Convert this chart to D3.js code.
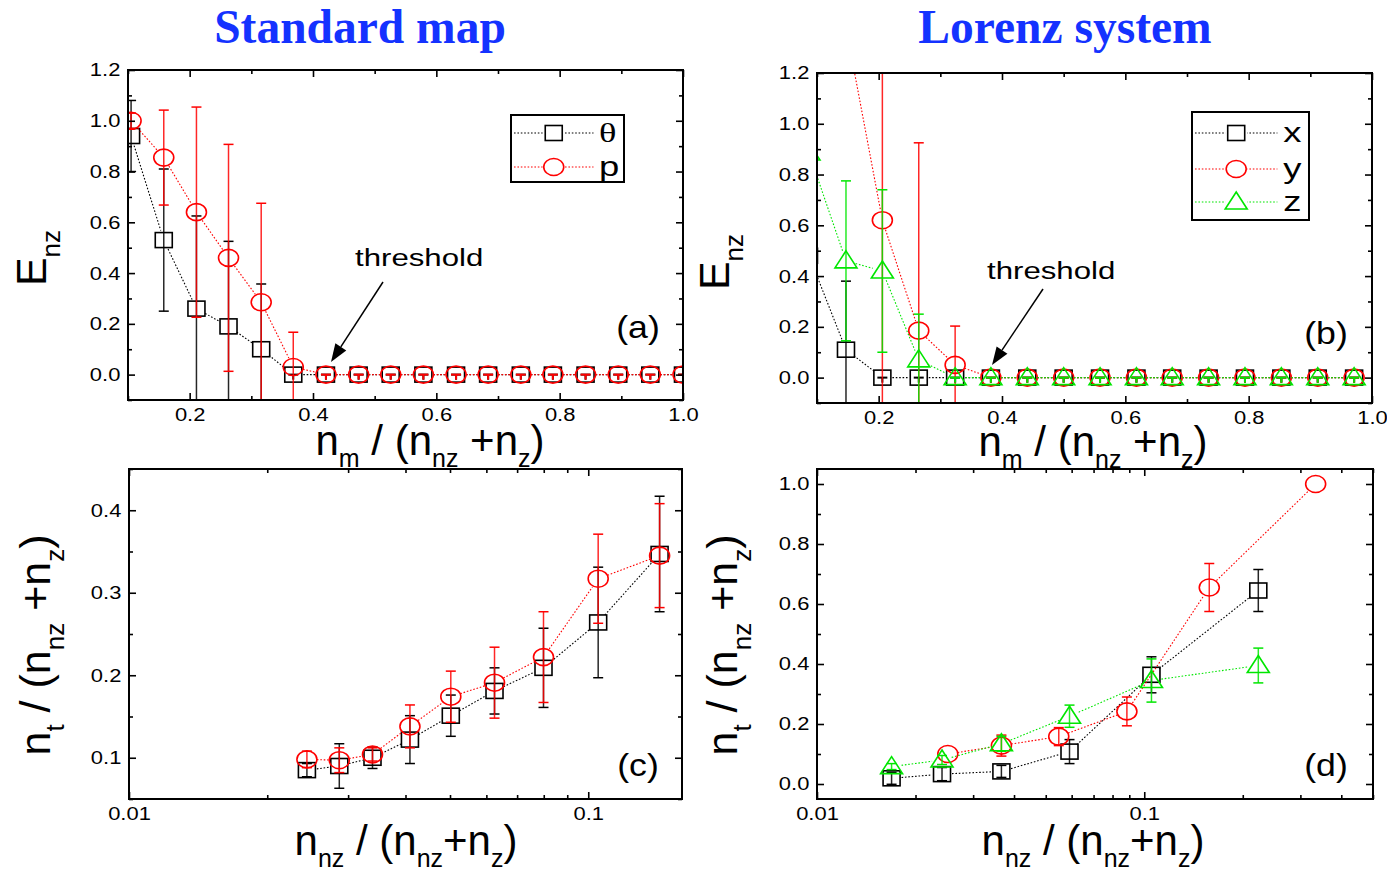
<!DOCTYPE html>
<html>
<head>
<meta charset="utf-8">
<script src="https://cdn.jsdelivr.net/npm/d3@7"></script>
<style>
  body { margin: 0; background: #fff; }
</style>
</head>
<body>
<svg id="fig" width="1387" height="873" font-family='"Liberation Sans", Arial, sans-serif'></svg>
<script>
// ---- data ----
// (a) standard map, E_nz vs n_m/(n_nz+n_z)
const aX = [0.105, 0.158, 0.211, 0.263, 0.316, 0.368, 0.421, 0.474, 0.526, 0.579, 0.632, 0.684, 0.737, 0.789, 0.842, 0.895, 0.947, 1.0];
const aTheta    = [0.94, 0.53, 0.26, 0.19, 0.10, 0.0, 0, 0, 0, 0, 0, 0, 0, 0, 0, 0, 0, 0];
const aThetaErr = [0.14, 0.28, 0.365, 0.335, 0.257, 0.02, 0.02, 0.02, 0.02, 0.02, 0.02, 0.02, 0.02, 0.02, 0.02, 0.02, 0.02, 0.02];
const aP        = [1.0, 0.855, 0.64, 0.46, 0.285, 0.03, 0, 0, 0, 0, 0, 0, 0, 0, 0, 0, 0, 0];
const aPErr     = [0.03, 0.187, 0.414, 0.447, 0.39, 0.137, 0.02, 0.02, 0.02, 0.02, 0.02, 0.02, 0.02, 0.02, 0.02, 0.02, 0.02, 0.02];

// (b) Lorenz system
const bX = [0.087, 0.147, 0.206, 0.265, 0.324, 0.382, 0.441, 0.5, 0.559, 0.618, 0.676, 0.735, 0.794, 0.853, 0.912, 0.971];
const bXs    = [0.48, 0.11, 0, 0, 0, 0, 0, 0, 0, 0, 0, 0, 0, 0, 0, 0];
const bXsErr = [0, 0.27, 0.02, 0.02, 0.02, 0.02, 0.02, 0.02, 0.02, 0.02, 0.02, 0.02, 0.02, 0.02, 0.02, 0.02];
const bYs    = [2.4, 1.38, 0.62, 0.185, 0.05, 0, 0, 0, 0, 0, 0, 0, 0, 0, 0, 0];
const bYsErr = [0, 0.1, 1.0, 0.74, 0.153, 0.02, 0.02, 0.02, 0.02, 0.02, 0.02, 0.02, 0.02, 0.02, 0.02, 0.02];
const bZs    = [0.885, 0.46, 0.42, 0.07, 0, 0, 0, 0, 0, 0, 0, 0, 0, 0, 0, 0];
const bZsErr = [0, 0.315, 0.32, 0.18, 0.02, 0.02, 0.02, 0.02, 0.02, 0.02, 0.02, 0.02, 0.02, 0.02, 0.02, 0.02];

// (c) standard map, n_t/(n_nz+n_z) vs n_nz/(n_nz+n_z)
const cX = [0.0244, 0.0287, 0.0339, 0.0409, 0.0502, 0.0625, 0.0799, 0.1051, 0.143];
const cTheta    = [0.085, 0.090, 0.100, 0.122, 0.151, 0.181, 0.209, 0.264, 0.347];
const cThetaErr = [0.008, 0.027, 0.013, 0.029, 0.025, 0.028, 0.048, 0.067, 0.07];
const cP        = [0.098, 0.097, 0.104, 0.138, 0.174, 0.191, 0.222, 0.317, 0.345];
const cPErr     = [0.01, 0.015, 0.008, 0.026, 0.031, 0.043, 0.055, 0.054, 0.063];

// (d) Lorenz system
const dXx = [0.0169, 0.0241, 0.0366, 0.0591, 0.1052, 0.2231];
const dXs    = [0.019, 0.033, 0.042, 0.108, 0.364, 0.645];
const dXsErr = [0.02, 0.022, 0.02, 0.04, 0.06, 0.07];
const dYx = [0.0251, 0.0366, 0.0548, 0.0885, 0.158, 0.334];
const dYs    = [0.10, 0.128, 0.158, 0.242, 0.655, 1.0];
const dYsErr = [0, 0.035, 0.03, 0.048, 0.08, 0];
const dZx = [0.0169, 0.0241, 0.0366, 0.0591, 0.1052, 0.2231];
const dZs    = [0.058, 0.08, 0.134, 0.226, 0.345, 0.395];
const dZsErr = [0.01, 0.015, 0.025, 0.037, 0.072, 0.058];

// tick values
const linTicksA = [0.2, 0.4, 0.6, 0.8, 1.0];
const linMinorA = [0.1, 0.3, 0.5, 0.7, 0.9];
const yTicksE = [0.0, 0.2, 0.4, 0.6, 0.8, 1.0, 1.2];
const yMinorE = [-0.1, 0.1, 0.3, 0.5, 0.7, 0.9, 1.1];
const logTicks = [0.01, 0.1];
const logMinorC = [0.02, 0.03, 0.04, 0.05, 0.06, 0.07, 0.08, 0.09];
const logMinorD = [0.02, 0.03, 0.04, 0.05, 0.06, 0.07, 0.08, 0.09, 0.2, 0.3, 0.4, 0.5];
const yTicksC = [0.1, 0.2, 0.3, 0.4];
const yMinorC = [0.05, 0.15, 0.25, 0.35, 0.45];
const yTicksD = [0.0, 0.2, 0.4, 0.6, 0.8, 1.0];
const yMinorD = [0.1, 0.3, 0.5, 0.7, 0.9];

const BLACK = '#000', RED = '#ff0000', GREEN = '#00e600';
// the original figure's small texts are a little stretched sideways
const TICK_SX = 1.18, TAG_SX = 1.15, NOTE_SX = 1.3;
const SANS = '"Liberation Sans", Arial, sans-serif';
const SERIF = '"Liberation Serif", "Times New Roman", serif';

const svg = d3.select('#fig');

function marker(g, shape, cx, cy, color) {
    if (shape === 'square') {
        g.append('rect').attr('x', cx - 8.5).attr('y', cy - 7.5).attr('width', 17).attr('height', 15)
            .attr('fill', 'none').attr('stroke', color).attr('stroke-width', 1.6);
    } else if (shape === 'circle') {
        g.append('ellipse').attr('cx', cx).attr('cy', cy).attr('rx', 10).attr('ry', 8.5)
            .attr('fill', 'none').attr('stroke', color).attr('stroke-width', 1.6);
    } else {
        g.append('path')
            .attr('d', 'M' + cx + ',' + (cy - 10) + ' L' + (cx + 11) + ',' + (cy + 7) + ' L' + (cx - 11) + ',' + (cy + 7) + ' Z')
            .attr('fill', 'none').attr('stroke', color).attr('stroke-width', 1.6);
    }
}

function drawSeries(g, x, y, xs, vals, errs, color, shape) {
    const pts = xs.map((d, i) => [x(d), y(vals[i])]);
    // dotted connecting line, with a gap round each marker
    for (let i = 0; i < pts.length - 1; i++) {
        const [x1, y1] = pts[i], [x2, y2] = pts[i + 1];
        const len = Math.hypot(x2 - x1, y2 - y1);
        const gap = 10;
        if (len <= 2 * gap) continue;
        const ux = (x2 - x1) / len, uy = (y2 - y1) / len;
        g.append('line')
            .attr('x1', x1 + ux * gap).attr('y1', y1 + uy * gap)
            .attr('x2', x2 - ux * gap).attr('y2', y2 - uy * gap)
            .attr('stroke', color).attr('stroke-width', 1.1)
            .attr('stroke-dasharray', '1.6,1.8');
    }
    // error bars
    pts.forEach((p, i) => {
        const e = errs[i];
        if (!e) return;
        const cx = p[0];
        if (vals[i] === 0) {
            // tiny bars at zero show as a "T"
            g.append('line').attr('x1', cx - 5).attr('x2', cx + 5).attr('y1', p[1]).attr('y2', p[1])
                .attr('stroke', color).attr('stroke-width', 2);
            g.append('line').attr('x1', cx).attr('x2', cx).attr('y1', p[1]).attr('y2', y(-e))
                .attr('stroke', color).attr('stroke-width', 2);
            return;
        }
        const yt = y(vals[i] + e), yb = y(vals[i] - e);
        g.append('line').attr('x1', cx).attr('x2', cx).attr('y1', yt).attr('y2', yb)
            .attr('stroke', color).attr('stroke-width', 1.5).attr('stroke-opacity', 0.85);
        [yt, yb].forEach(yy => {
            g.append('line').attr('x1', cx - 5).attr('x2', cx + 5).attr('y1', yy).attr('y2', yy)
                .attr('stroke', color).attr('stroke-width', 1.5);
        });
    });
    pts.forEach(p => marker(g, shape, p[0], p[1], color));
}

// text with subscripts: parts = [[string, isSub], ...]
function subText(g, parts, big, small, shift) {
    const t = g.append('text').attr('text-anchor', 'middle').attr('fill', '#000');
    let inSub = false;
    parts.forEach(([s, sub]) => {
        const ts = t.append('tspan').text(s).attr('font-size', sub ? small : big);
        if (sub && !inSub) ts.attr('dy', shift);
        if (!sub && inSub) ts.attr('dy', -shift);
        inSub = sub;
    });
    return t;
}

function drawPanel(p) {
    const g = svg.append('g');
    const x = (p.log ? d3.scaleLog() : d3.scaleLinear()).domain(p.xDomain).range([p.left, p.right]);
    const y = d3.scaleLinear().domain(p.yDomain).range([p.bottom, p.top]);

    const clipId = 'clip-' + p.name;
    svg.append('clipPath').attr('id', clipId).append('rect')
        .attr('x', p.left).attr('y', p.top).attr('width', p.right - p.left).attr('height', p.bottom - p.top);

    const plot = g.append('g').attr('clip-path', 'url(#' + clipId + ')');
    p.series.forEach(s => drawSeries(plot, x, y, s.x, s.v, s.e, s.color, s.shape));

    // axes: ticks point inward on all four sides
    const fmtX = p.log ? (d => d === 0.01 ? '0.01' : '0.1') : d3.format('.1f');
    const ax = [
        { a: d3.axisBottom(x).tickValues(p.xTicks).tickFormat(fmtX), t: 'translate(0,' + p.bottom + ')', lab: true, pad: 8 },
        { a: d3.axisBottom(x).tickValues(p.xMinor).tickFormat(''), t: 'translate(0,' + p.bottom + ')', minor: true },
        { a: d3.axisTop(x).tickValues(p.xTicks).tickFormat(''), t: 'translate(0,' + p.top + ')' },
        { a: d3.axisTop(x).tickValues(p.xMinor).tickFormat(''), t: 'translate(0,' + p.top + ')', minor: true },
        { a: d3.axisLeft(y).tickValues(p.yTicks).tickFormat(d3.format(p.yFmt)), t: 'translate(' + p.left + ',0)', lab: true, pad: 6.5 },
        { a: d3.axisLeft(y).tickValues(p.yMinor).tickFormat(''), t: 'translate(' + p.left + ',0)', minor: true },
        { a: d3.axisRight(y).tickValues(p.yTicks).tickFormat(''), t: 'translate(' + p.right + ',0)' },
        { a: d3.axisRight(y).tickValues(p.yMinor).tickFormat(''), t: 'translate(' + p.right + ',0)', minor: true }
    ];
    ax.forEach(d => {
        d.a.tickSizeInner(d.minor ? -4 : -7).tickSizeOuter(0).tickPadding(d.pad || 9);
        const ag = g.append('g').attr('transform', d.t).call(d.a);
        ag.select('.domain').remove();
        ag.selectAll('line').attr('stroke', '#000').attr('stroke-width', 1.6);
        ag.selectAll('text').attr('font-size', 18.6).attr('fill', '#000').attr('font-family', SANS);
        if (d.lab) ag.selectAll('text').attr('transform', 'scale(' + TICK_SX + ',1)');
    });

    g.append('rect').attr('x', p.left).attr('y', p.top)
        .attr('width', p.right - p.left).attr('height', p.bottom - p.top)
        .attr('fill', 'none').attr('stroke', '#000').attr('stroke-width', 2);

    // panel letter
    g.append('text').attr('x', p.tagX / TAG_SX).attr('y', p.tagY).attr('text-anchor', 'middle')
        .attr('font-size', 31).attr('transform', 'scale(' + TAG_SX + ',1)').text(p.tag);

    // axis titles
    subText(g, p.xTitle, 42, 25, 12)
        .attr('transform', 'translate(' + p.xTitleX + ',' + p.xTitleY + ')');
    subText(g, p.yTitle, 43, 26, 14)
        .attr('transform', 'translate(' + p.yTitleX + ',' + p.yTitleY + ') rotate(-90)');

    return { x, y, g };
}

function arrow(g, x1, y1, x2, y2, label, lx, ly) {
    const ang = Math.atan2(y2 - y1, x2 - x1);
    const hl = 18, hw = 6.5;
    const bx = x2 - hl * Math.cos(ang), by = y2 - hl * Math.sin(ang);
    g.append('line').attr('x1', x1).attr('y1', y1).attr('x2', bx).attr('y2', by)
        .attr('stroke', '#000').attr('stroke-width', 1.5);
    g.append('path')
        .attr('d', 'M' + x2 + ',' + y2 +
            ' L' + (bx + hw * Math.sin(ang)) + ',' + (by - hw * Math.cos(ang)) +
            ' L' + (bx - hw * Math.sin(ang)) + ',' + (by + hw * Math.cos(ang)) + ' Z')
        .attr('fill', '#000');
    g.append('text').attr('x', lx / NOTE_SX).attr('y', ly).attr('font-size', 24)
        .attr('transform', 'scale(' + NOTE_SX + ',1)').text(label);
}

function legend(g, bx, by, bw, bh, rows) {
    g.append('rect').attr('x', bx).attr('y', by).attr('width', bw).attr('height', bh)
        .attr('fill', '#fff').attr('stroke', '#000').attr('stroke-width', 2);
    rows.forEach(r => {
        g.append('line').attr('x1', bx + 3).attr('x2', bx + bw * 0.73).attr('y1', r.y).attr('y2', r.y)
            .attr('stroke', r.color).attr('stroke-width', 1.1).attr('stroke-dasharray', '1.6,1.8');
        const mx = bx + bw * 0.73 / 2 + 1.5;
        g.append('rect').attr('x', mx - 11).attr('y', r.y - 10).attr('width', 22).attr('height', 20).attr('fill', '#fff');
        marker(g, r.shape, mx, r.y, r.color);
        g.append('text').attr('x', (bx + bw * 0.78) / NOTE_SX).attr('y', r.y + 9).attr('font-size', 28)
            .attr('font-family', r.serif ? SERIF : SANS)
            .attr('transform', 'scale(' + NOTE_SX + ',1)').text(r.label);
    });
}

const xTitleM = [['n', 0], ['m', 1], [' / (n', 0], ['nz', 1], [' +n', 0], ['z', 1], [')', 0]];
const xTitleNz = [['n', 0], ['nz', 1], [' / (n', 0], ['nz', 1], ['+n', 0], ['z', 1], [')', 0]];
const yTitleE = [['E', 0], ['nz', 1]];
const yTitleT = [['n', 0], ['t', 1], [' / (n', 0], ['nz', 1], [' +n', 0], ['z', 1], [')', 0]];

const pa = drawPanel({
    name: 'a', left: 128, right: 683, top: 70, bottom: 400,
    xDomain: [0.1, 1.0], yDomain: [-0.1, 1.2], log: false,
    xTicks: linTicksA, xMinor: linMinorA, yTicks: yTicksE, yMinor: yMinorE, yFmt: '.1f',
    series: [
        { x: aX, v: aTheta, e: aThetaErr, color: BLACK, shape: 'square' },
        { x: aX, v: aP, e: aPErr, color: RED, shape: 'circle' }
    ],
    tag: '(a)', tagX: 638, tagY: 338,
    xTitle: xTitleM, xTitleX: 430, xTitleY: 455,
    yTitle: yTitleE, yTitleX: 46, yTitleY: 258
});
arrow(pa.g, 383, 282, 331, 362, 'threshold', 355, 266);
legend(pa.g, 511, 115, 113, 67, [
    { y: 133, color: BLACK, shape: 'square', label: 'θ', serif: true },
    { y: 167, color: RED, shape: 'circle', label: 'p' }
]);

const pb = drawPanel({
    name: 'b', left: 817, right: 1372, top: 73, bottom: 403,
    xDomain: [0.1, 1.0], yDomain: [-0.1, 1.2], log: false,
    xTicks: linTicksA, xMinor: linMinorA, yTicks: yTicksE, yMinor: yMinorE, yFmt: '.1f',
    series: [
        { x: bX, v: bXs, e: bXsErr, color: BLACK, shape: 'square' },
        { x: bX, v: bYs, e: bYsErr, color: RED, shape: 'circle' },
        { x: bX, v: bZs, e: bZsErr, color: GREEN, shape: 'triangle' }
    ],
    tag: '(b)', tagX: 1326, tagY: 344,
    xTitle: xTitleM, xTitleX: 1093, xTitleY: 456,
    yTitle: yTitleE, yTitleX: 729, yTitleY: 262
});
arrow(pb.g, 1043, 289, 992, 365, 'threshold', 987, 279);
legend(pb.g, 1192, 112, 117, 108, [
    { y: 133, color: BLACK, shape: 'square', label: 'x' },
    { y: 169, color: RED, shape: 'circle', label: 'y' },
    { y: 202, color: GREEN, shape: 'triangle', label: 'z' }
]);

drawPanel({
    name: 'c', left: 129, right: 682, top: 469, bottom: 799,
    xDomain: [0.01, 0.16], yDomain: [0.05, 0.45], log: true,
    xTicks: logTicks, xMinor: logMinorC, yTicks: yTicksC, yMinor: yMinorC, yFmt: '.1f',
    series: [
        { x: cX, v: cTheta, e: cThetaErr, color: BLACK, shape: 'square' },
        { x: cX, v: cP, e: cPErr, color: RED, shape: 'circle' }
    ],
    tag: '(c)', tagX: 638, tagY: 776,
    xTitle: xTitleNz, xTitleX: 406, xTitleY: 855,
    yTitle: yTitleT, yTitleX: 50, yTitleY: 645
});

drawPanel({
    name: 'd', left: 817, right: 1373, top: 469, bottom: 799,
    xDomain: [0.01, 0.5], yDomain: [-0.05, 1.05], log: true,
    xTicks: logTicks, xMinor: logMinorD, yTicks: yTicksD, yMinor: yMinorD, yFmt: '.1f',
    series: [
        { x: dXx, v: dXs, e: dXsErr, color: BLACK, shape: 'square' },
        { x: dYx, v: dYs, e: dYsErr, color: RED, shape: 'circle' },
        { x: dZx, v: dZs, e: dZsErr, color: GREEN, shape: 'triangle' }
    ],
    tag: '(d)', tagX: 1326, tagY: 776,
    xTitle: xTitleNz, xTitleX: 1093, xTitleY: 855,
    yTitle: yTitleT, yTitleX: 737, yTitleY: 645
});

// column titles
svg.append('text').attr('x', 360).attr('y', 43).attr('text-anchor', 'middle')
    .attr('font-family', SERIF).attr('font-weight', 'bold')
    .attr('font-size', 47.5).attr('fill', '#1432ff').text('Standard map');
svg.append('text').attr('x', 1065).attr('y', 43).attr('text-anchor', 'middle')
    .attr('font-family', SERIF).attr('font-weight', 'bold')
    .attr('font-size', 47.5).attr('fill', '#1432ff').text('Lorenz system');
</script>
</body>
</html>
